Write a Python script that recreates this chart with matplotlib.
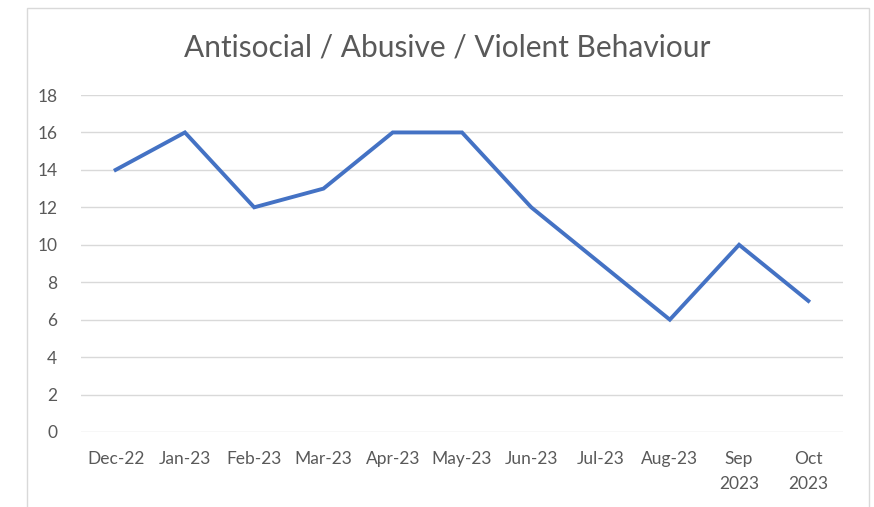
import matplotlib
matplotlib.use("Agg")
import matplotlib.pyplot as plt
from matplotlib.patches import Rectangle

categories = ["Dec-22", "Jan-23", "Feb-23", "Mar-23", "Apr-23", "May-23", "Jun-23",
              "Jul-23", "Aug-23", "Sep\n2023", "Oct\n2023"]
values = [14, 16, 12, 13, 16, 16, 12, 9, 6, 10, 7]
yticks = [0, 2, 4, 6, 8, 10, 12, 14, 16, 18]

plt.rcParams['font.family'] = ['Lato', 'DejaVu Sans']

fig = plt.figure(figsize=(8.74, 5.07), dpi=100)
fig.patches.append(Rectangle((27/874, -0.1), (869-27)/874, 1.1 - 8/507,
                             transform=fig.transFigure, fill=False,
                             edgecolor="#d9d9d9", linewidth=1.0))
ax = fig.add_axes([81/874, 1-432/507, (843-81)/874, (432-95)/507])
x = list(range(len(categories)))
ax.plot(x, values, color="#4472C4", linewidth=2.8, solid_joinstyle="miter")
ax.set_xlim(-0.5, len(categories)-0.5)
ax.set_ylim(0, 18)
ax.set_yticks(yticks)
ax.set_xticks(x)
ax.set_xticklabels(categories, fontsize=12.5, color="#595959", linespacing=1.65)
ax.tick_params(axis='y', labelsize=12.5, labelcolor="#595959", length=0, pad=17)
ax.tick_params(axis='x', length=0, pad=14)
ax.grid(axis='y', color="#d9d9d9", linewidth=1)
ax.set_axisbelow(True)
for s in ax.spines.values():
    s.set_visible(False)
fig.text(447/874, 1-47/507, "Antisocial / Abusive / Violent Behaviour", fontsize=21.5,
         color="#595959", ha="center", va="center")
fig.savefig("out.png", dpi=100)
